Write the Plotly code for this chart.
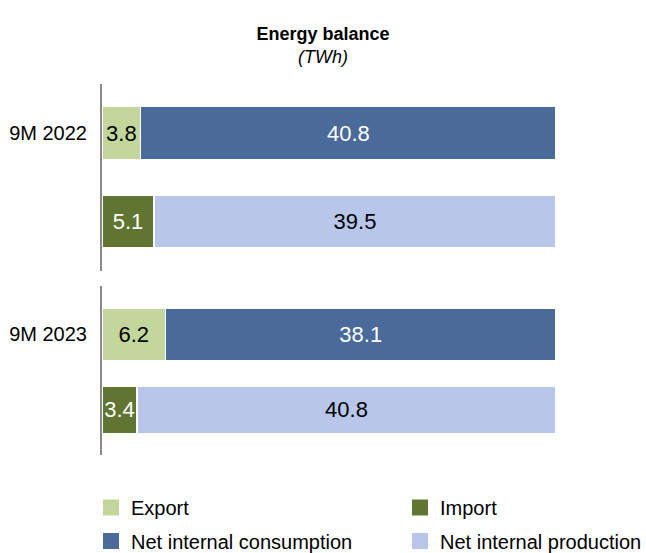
import plotly.graph_objects as go

# ---- data (TWh) ----
periods = ["9M 2022", "9M 2023"]
export_twh = [3.8, 6.2]
import_twh = [5.1, 3.4]
consumption_twh = [40.8, 38.1]
production_twh = [39.5, 40.8]
rows = ["Export + consumption", "Import + production"]
series_names = ["Export", "Import", "Net internal consumption", "Net internal production"]

# ---- styles ----
C_EXPORT = "#C3D69B"
C_IMPORT = "#607532"
C_CONS = "#4A6A99"
C_PROD = "#B8C6EA"
FONT = "Liberation Sans, Arial, sans-serif"
bar_widths = [[0.596, 0.596], [0.695, 0.64]]

fig = go.Figure()

for i, period in enumerate(periods):
    xa = "x" if i == 0 else "x2"
    ya = "y" if i == 0 else "y2"
    w_out, w_in = bar_widths[i]
    specs = [
        (series_names[0], rows[0], export_twh[i], C_EXPORT, "black", w_out),
        (series_names[1], rows[1], import_twh[i], C_IMPORT, "white", w_in),
        (series_names[2], rows[0], consumption_twh[i], C_CONS, "white", w_out),
        (series_names[3], rows[1], production_twh[i], C_PROD, "black", w_in),
    ]
    for name, row, val, col, tcol, w in specs:
        fig.add_trace(go.Bar(
            x=[val], y=[row], orientation="h", name=name,
            xaxis=xa, yaxis=ya, width=w,
            marker=dict(color=col, line=dict(color="white", width=1.5)),
            text=[val], texttemplate="%{text:.1f}", textposition="inside",
            insidetextanchor="middle", constraintext="none", textangle=0,
            textfont=dict(color=tcol, size=22, family=FONT),
            showlegend=False, hoverinfo="name+text",
        ))

# legend-only entries: one legend per entry (2 columns x 2 rows)
legend_ids = ["legend", "legend2", "legend3", "legend4"]
legend_cols = [C_EXPORT, C_IMPORT, C_CONS, C_PROD]
for name, col, lg in zip(series_names, legend_cols, legend_ids):
    fig.add_trace(go.Scatter(
        x=[None], y=[None], mode="markers", name=name, legend=lg,
        marker=dict(symbol="square", size=16, color=col),
        xaxis="x", yaxis="y", showlegend=True,
    ))

yaxis_common = dict(
    type="category", categoryarray=rows, showline=True,
    linecolor="#8a8a8a", linewidth=2, showgrid=False, zeroline=False,
    ticks="", ticklabelstandoff=9, automargin=False,
    tickfont=dict(size=20, color="black", family=FONT),
    fixedrange=True,
)
xaxis_common = dict(range=[0, 100], visible=False, showgrid=False,
                    zeroline=False, fixedrange=True, automargin=False)

legend_common = dict(
    orientation="h", xanchor="left", yanchor="middle",
    font=dict(size=20, color="black", family=FONT),
    bgcolor="rgba(0,0,0,0)", itemclick=False, itemdoubleclick=False,
)
col_x = [-0.0242, 0.6564]
row_y = [-0.1415, -0.2318]

fig.update_layout(
    width=646, height=553,
    margin=dict(l=102, r=90, t=84, b=98, autoexpand=False),
    paper_bgcolor="white", plot_bgcolor="white",
    barmode="stack", barnorm="percent",
    font=dict(family=FONT, color="black"),
    title=dict(
        text="<b>Energy balance</b><br><i>(TWh)</i>",
        x=0.5, xref="container", xanchor="center",
        y=1 - 40 / 553, yref="container", yanchor="middle",
        font=dict(size=18, color="black", family=FONT),
    ),
    xaxis=dict(domain=[0, 1], anchor="y", **xaxis_common),
    xaxis2=dict(domain=[0, 1], anchor="y2", **xaxis_common),
    yaxis=dict(domain=[0.496, 1], anchor="x", range=[1.563, -0.555],
               tickvals=[rows[0]], ticktext=[periods[0]], **yaxis_common),
    yaxis2=dict(domain=[0, 0.4555], anchor="x2", range=[1.598, -0.643],
                tickvals=[rows[0]], ticktext=[periods[1]], **yaxis_common),
    legend=dict(x=col_x[0], y=row_y[0], **legend_common),
    legend2=dict(x=col_x[1], y=row_y[0], **legend_common),
    legend3=dict(x=col_x[0], y=row_y[1], **legend_common),
    legend4=dict(x=col_x[1], y=row_y[1], **legend_common),
)

fig.write_html(
    "out.html",
    config={"displayModeBar": False},
    post_script="document.body.style.margin='0px';document.body.style.overflow='hidden';",
)
